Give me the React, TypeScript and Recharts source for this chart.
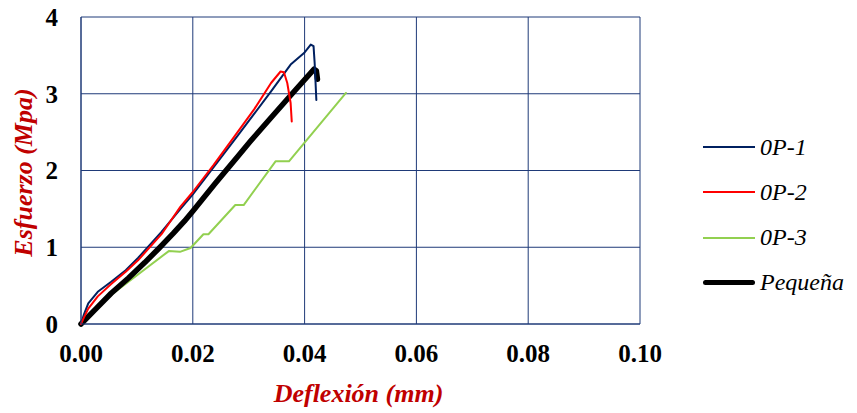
import { LineChart, Line, XAxis, YAxis, CartesianGrid, Label } from "recharts";

// Deflexión (mm) / Esfuerzo (MPa) readings for each specimen
const op1Deflexion = [0, 0.0005, 0.0013, 0.003, 0.0054, 0.008, 0.0102, 0.0144, 0.0178, 0.02, 0.024, 0.028, 0.031, 0.034, 0.0375, 0.0399, 0.0411, 0.0416, 0.0418, 0.0421];
const op1Esfuerzo = [0, 0.12, 0.27, 0.42, 0.55, 0.7, 0.86, 1.2, 1.5, 1.69, 2.07, 2.45, 2.74, 3.03, 3.38, 3.53, 3.64, 3.62, 3.4, 2.92];

const op2Deflexion = [0, 0.0005, 0.0013, 0.003, 0.0054, 0.008, 0.0102, 0.0144, 0.0178, 0.02, 0.0237, 0.027, 0.031, 0.034, 0.0357, 0.0363, 0.0369, 0.0375, 0.0377];
const op2Esfuerzo = [0, 0.08, 0.2, 0.36, 0.52, 0.68, 0.83, 1.17, 1.53, 1.72, 2.07, 2.4, 2.8, 3.14, 3.29, 3.28, 3.14, 2.88, 2.64];

const op3Deflexion = [0, 0.0045, 0.0157, 0.0177, 0.0196, 0.0219, 0.0228, 0.0276, 0.0291, 0.0348, 0.0372, 0.0474];
const op3Esfuerzo = [0, 0.33, 0.95, 0.94, 0.99, 1.17, 1.17, 1.55, 1.55, 2.12, 2.12, 3.01];

const pequenaDeflexion = [0, 0.0027, 0.0054, 0.0085, 0.0114, 0.014, 0.0165, 0.0185, 0.0201, 0.024, 0.028, 0.0303, 0.0339, 0.038, 0.0417, 0.0421, 0.0423];
const pequenaEsfuerzo = [0, 0.2, 0.4, 0.6, 0.8, 0.99, 1.18, 1.34, 1.48, 1.83, 2.18, 2.38, 2.68, 3.02, 3.32, 3.3, 3.19];

const xTicks = [0, 0.02, 0.04, 0.06, 0.08, 0.1];
const yTicks = [0, 1, 2, 3, 4];

const SERIF = "Liberation Serif, Tinos, Times New Roman, Times, DejaVu Serif, serif";
const GRID = "#1F3A78";
const TITLE_RED = "#C00000";

const toPoints = (xs: number[], ys: number[]) => xs.map((x, i) => ({ x, y: ys[i] }));

const SERIES = [
  { name: "0P-1", data: toPoints(op1Deflexion, op1Esfuerzo), color: "#002060", width: 2 },
  { name: "0P-2", data: toPoints(op2Deflexion, op2Esfuerzo), color: "#FF0000", width: 2 },
  { name: "0P-3", data: toPoints(op3Deflexion, op3Esfuerzo), color: "#92D050", width: 2 },
  { name: "Pequeña", data: toPoints(pequenaDeflexion, pequenaEsfuerzo), color: "#000000", width: 5.5 },
];

// paint order: green under black, red on top
const DRAW_ORDER = ["0P-3", "Pequeña", "0P-1", "0P-2"];

const tickStyle = { fill: "#000", fontSize: 25, fontWeight: "bold", fontFamily: SERIF };

function YTitle(props: any) {
  const vb = props.viewBox || { x: 0, y: 17, width: 81, height: 307 };
  const cx = vb.x + 23;
  const cy = vb.y + vb.height / 2 + 2;
  return (
    <text
      x={cx}
      y={cy}
      transform={`rotate(-90, ${cx}, ${cy})`}
      textAnchor="middle"
      dominantBaseline="central"
      fill={TITLE_RED}
      style={{ fontFamily: SERIF, fontSize: 26, fontWeight: "bold", fontStyle: "italic" }}
    >
      Esfuerzo (Mpa)
    </text>
  );
}

function XTitle(props: any) {
  const vb = props.viewBox || { x: 81, y: 324, width: 559, height: 89 };
  return (
    <text
      x={vb.x + vb.width / 2 - 2}
      y={vb.y + 78}
      textAnchor="middle"
      fill={TITLE_RED}
      style={{ fontFamily: SERIF, fontSize: 26, fontWeight: "bold", fontStyle: "italic" }}
    >
      Deflexión (mm)
    </text>
  );
}

function SideLegend() {
  return (
    <div style={{ position: "absolute", left: 703, top: 0 }}>
      {SERIES.map((s, i) => {
        const thick = s.name === "Pequeña";
        return (
          <div
            key={s.name}
            style={{
              position: "absolute",
              top: 147 + i * 45.3 - 15,
              height: 30,
              display: "flex",
              alignItems: "center",
              whiteSpace: "nowrap",
            }}
          >
            <div style={{ width: 52, height: thick ? 5 : 2, background: s.color, borderRadius: thick ? 3 : 0 }} />
            <span style={{ marginLeft: 5, fontFamily: SERIF, fontStyle: "italic", fontSize: 24, color: "#000" }}>
              {s.name}
            </span>
          </div>
        );
      })}
    </div>
  );
}

export default function App() {
  const ordered = DRAW_ORDER.map((n) => SERIES.find((s) => s.name === n)!);
  return (
    <div style={{ position: "relative", width: 857, height: 413, margin: "-8px 0 0 -8px", background: "#fff", fontFamily: SERIF }}>
      <LineChart width={857} height={413} margin={{ top: 17, right: 217, left: 0, bottom: 0 }} style={{ fontFamily: SERIF }}>
        <CartesianGrid stroke={GRID} strokeWidth={1} horizontal vertical />
        <XAxis
          type="number"
          dataKey="x"
          domain={[0, 0.1]}
          ticks={xTicks}
          height={89}
          tickSize={0}
          tickMargin={20}
          axisLine={{ stroke: GRID }}
          tickLine={false}
          tick={tickStyle}
          tickFormatter={(v: number) => v.toFixed(2)}
        >
          <Label content={<XTitle />} />
        </XAxis>
        <YAxis
          type="number"
          dataKey="y"
          domain={[0, 4]}
          ticks={yTicks}
          width={81}
          tickSize={0}
          tickMargin={23}
          axisLine={{ stroke: GRID }}
          tickLine={false}
          tick={tickStyle}
        >
          <Label content={<YTitle />} />
        </YAxis>
        {ordered.map((s) => (
          <Line
            key={s.name}
            data={s.data}
            dataKey="y"
            name={s.name}
            type="linear"
            stroke={s.color}
            strokeWidth={s.width}
            strokeLinejoin="round"
            strokeLinecap="round"
            dot={false}
            activeDot={false}
            isAnimationActive={false}
          />
        ))}
      </LineChart>
      <SideLegend />
    </div>
  );
}
